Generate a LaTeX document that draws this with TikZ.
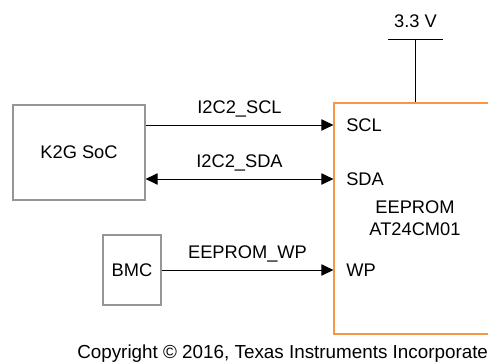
\documentclass[tikz,border=0pt]{standalone}
\usepackage{fontspec}
\setmainfont{Liberation Sans}
\usepackage{xcolor}
\usetikzlibrary{arrows.meta,positioning}
\definecolor{boxgray}{RGB}{150,150,150}
\definecolor{eeorange}{RGB}{247,150,70}

\begin{document}
\begin{tikzpicture}[font=\fontsize{13}{15.6}\selectfont,
	blk/.style={draw=boxgray,line width=0.8pt,inner sep=0pt},
	sig/.style={line width=0.7pt,-{Triangle[length=8.5pt,width=8pt]}},
	bisig/.style={line width=0.7pt,{Triangle[length=8.5pt,width=8pt]}-{Triangle[length=8.5pt,width=8pt]}},
	lbl/.style={midway,anchor=base,yshift=0.3cm},
	pin/.style={anchor=west,inner sep=0pt}]
	\clip (0,0) rectangle (12.2,9.05);
	\node[blk,minimum width=3.3cm,minimum height=2.375cm] (soc) at (1.975,5.2375) {K2G SoC};
	\node[blk,minimum width=1.45cm,minimum height=1.75cm] (bmc) at (3.3,2.3) {BMC};
	\node[draw=eeorange,line width=0.8pt,minimum width=4.05cm,minimum height=5.775cm,
		align=center] (eeprom) at (10.375,3.5875) {EEPROM\\AT24CM01};
	\node[pin] (scl) at (8.65,5.925) {SCL};
	\node[pin] (sda) at (8.65,4.575) {SDA};
	\node[pin] (wp) at (8.65,2.3) {WP};
	\draw[sig] (soc.east |- scl) -- (eeprom.west |- scl) node[lbl] {I2C2\_SCL};
	\draw[bisig] (soc.east |- sda) -- (eeprom.west |- sda) node[lbl] {I2C2\_SDA};
	\draw[sig] (bmc.east) -- (eeprom.west |- wp) node[lbl] {EEPROM\_WP};
	\coordinate (vcc) at (10.3875,8.075);
	\draw[line width=0.7pt] (vcc) -- (vcc |- eeprom.north);
	\draw[line width=0.7pt] ([xshift=-0.6875cm]vcc) -- ([xshift=0.6875cm]vcc);
	\node[anchor=base,inner sep=0pt] (vlabel) at ([yshift=0.3cm]vcc) {3.3 V};
	\node[anchor=base west,inner sep=0pt,font=\fontsize{13.4}{16}\selectfont] (copy) at (1.925,0.1) {Copyright © 2016, Texas Instruments Incorporated};
\end{tikzpicture}
\end{document}
